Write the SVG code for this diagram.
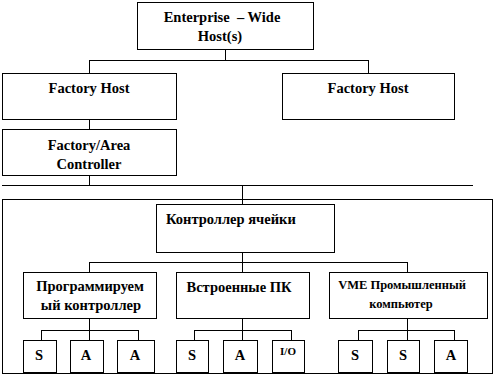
<svg xmlns="http://www.w3.org/2000/svg" width="494" height="382" viewBox="0 0 494 382">
<style>
rect{fill:#fff;stroke:#000;stroke-width:1}
.c path{fill:none;stroke:#000;stroke-width:1}
text{font-family:'Liberation Serif','Times New Roman',serif;font-weight:700;font-size:14.5px;fill:#000;text-anchor:middle}
.s{font-size:12.5px}
.x{font-size:11px}
</style>
<g id="area"><rect x="2.5" y="199.5" width="490" height="174"/></g>
<g class="c" id="connectors">
<path d="M225.5 49V60.5M89.5 60.5H368.5M89.5 60V73M368.5 60V73"/>
<path d="M89.5 119V129"/>
<path d="M89.5 175V185.5M2 185.5H473M242.5 185V204"/>
<path d="M242.5 252V262.5M89.5 262.5H407.5M89.5 262V272M242.5 262V272M407.5 262V272"/>
<path d="M89.5 318V330.5M41.5 330.5H138.5M41.5 330V340M89.5 330V340M138.5 330V340"/>
<path d="M242.5 318V330.5M194.5 330.5H291.5M194.5 330V340M242.5 330V340M291.5 330V340"/>
<path d="M407.5 318V330.5M358.5 330.5H454.5M358.5 330V340M407.5 330V340M454.5 330V340"/>
</g>
<g id="enterprise"><rect x="137.5" y="2.5" width="176" height="47"/><text x="222" y="22" xml:space="preserve">Enterprise  – Wide</text><text x="220" y="41">Host(s)</text></g>
<g id="factory1"><rect x="2.5" y="73.5" width="174" height="46"/><text x="89" y="93">Factory Host</text></g>
<g id="factory2"><rect x="282.5" y="73.5" width="172" height="46"/><text x="368" y="93">Factory Host</text></g>
<g id="area-controller"><rect x="2.5" y="129.5" width="174" height="46"/><text x="89" y="150">Factory/Area</text><text x="89" y="169">Controller</text></g>
<g id="cell"><rect x="156.5" y="204.5" width="178" height="48"/><text x="166" y="224" style="text-anchor:start">Контроллер ячейки</text></g>
<g id="plc"><rect x="23.5" y="272.5" width="133" height="46"/><text x="90" y="291">Программируем</text><text x="91" y="310">ый контроллер</text></g>
<g id="embedded"><rect x="176.5" y="272.5" width="133" height="46"/><text x="239" y="292">Встроенные ПК</text></g>
<g id="vme"><rect x="329.5" y="272.5" width="158" height="46"/><text class="s" x="402" y="289">VME Промышленный</text><text class="s" x="401" y="308">компьютер</text></g>
<g id="s1"><rect x="23.5" y="340.5" width="33" height="32"/><text x="39" y="360">S</text></g>
<g id="a1"><rect x="70.5" y="340.5" width="33" height="32"/><text x="86" y="360">A</text></g>
<g id="a2"><rect x="117.5" y="340.5" width="37" height="32"/><text x="135" y="360">A</text></g>
<g id="s2"><rect x="176.5" y="340.5" width="32" height="32"/><text x="192" y="360">S</text></g>
<g id="a3"><rect x="223.5" y="340.5" width="34" height="32"/><text x="240" y="360">A</text></g>
<g id="io"><rect x="272.5" y="340.5" width="32" height="32"/><text class="x" x="288" y="355">I/O</text></g>
<g id="s3"><rect x="338.5" y="340.5" width="34" height="32"/><text x="355" y="360">S</text></g>
<g id="s4"><rect x="387.5" y="340.5" width="32" height="32"/><text x="403" y="360">S</text></g>
<g id="a4"><rect x="434.5" y="340.5" width="33" height="32"/><text x="451" y="360">A</text></g>
</svg>
